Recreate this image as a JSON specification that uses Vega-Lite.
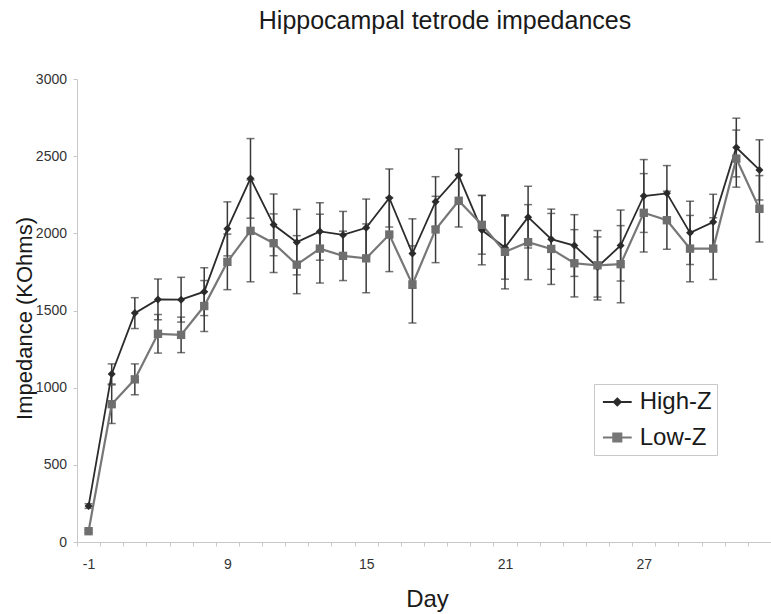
{
  "$schema": "https://vega.github.io/schema/vega-lite/v6.json",
  "autosize": {"type": "none"},
  "padding": {"left": 77, "top": 79, "right": 0, "bottom": 72},
  "width": 694,
  "height": 463,
  "background": "white",
  "config": {"view": {"stroke": null}, "font": "Liberation Sans"},
  "title": {"text": "Hippocampal tetrode impedances", "fontSize": 25, "font": "Liberation Sans", "fontWeight": "normal", "color": "#1a1a1a", "anchor": "middle", "frame": "group", "dx": 21, "offset": 18, "baseline": "alphabetic"},
  "data": {"values": [
    {"day": -1, "group": "High-Z", "mean": 233, "err": 15},
    {"day": 4, "group": "High-Z", "mean": 1089, "err": 65},
    {"day": 5, "group": "High-Z", "mean": 1483, "err": 100},
    {"day": 6, "group": "High-Z", "mean": 1572, "err": 132},
    {"day": 7, "group": "High-Z", "mean": 1570, "err": 145},
    {"day": 8, "group": "High-Z", "mean": 1622, "err": 155},
    {"day": 9, "group": "High-Z", "mean": 2029, "err": 175},
    {"day": 10, "group": "High-Z", "mean": 2356, "err": 258},
    {"day": 11, "group": "High-Z", "mean": 2055, "err": 200},
    {"day": 12, "group": "High-Z", "mean": 1943, "err": 212},
    {"day": 13, "group": "High-Z", "mean": 2012, "err": 186},
    {"day": 14, "group": "High-Z", "mean": 1990, "err": 152},
    {"day": 15, "group": "High-Z", "mean": 2036, "err": 186},
    {"day": 16, "group": "High-Z", "mean": 2229, "err": 188},
    {"day": 17, "group": "High-Z", "mean": 1869, "err": 225},
    {"day": 18, "group": "High-Z", "mean": 2205, "err": 162},
    {"day": 19, "group": "High-Z", "mean": 2374, "err": 173},
    {"day": 20, "group": "High-Z", "mean": 2021, "err": 225},
    {"day": 21, "group": "High-Z", "mean": 1908, "err": 205},
    {"day": 22, "group": "High-Z", "mean": 2105, "err": 200},
    {"day": 23, "group": "High-Z", "mean": 1962, "err": 195},
    {"day": 24, "group": "High-Z", "mean": 1921, "err": 200},
    {"day": 25, "group": "High-Z", "mean": 1782, "err": 195},
    {"day": 26, "group": "High-Z", "mean": 1921, "err": 230},
    {"day": 27, "group": "High-Z", "mean": 2242, "err": 236},
    {"day": 28, "group": "High-Z", "mean": 2259, "err": 180},
    {"day": 29, "group": "High-Z", "mean": 2003, "err": 205},
    {"day": 30, "group": "High-Z", "mean": 2073, "err": 180},
    {"day": 31, "group": "High-Z", "mean": 2556, "err": 190},
    {"day": 32, "group": "High-Z", "mean": 2411, "err": 195},
    {"day": -1, "group": "Low-Z", "mean": 70, "err": 10},
    {"day": 4, "group": "Low-Z", "mean": 893, "err": 125},
    {"day": 5, "group": "Low-Z", "mean": 1054, "err": 100},
    {"day": 6, "group": "Low-Z", "mean": 1349, "err": 125},
    {"day": 7, "group": "Low-Z", "mean": 1342, "err": 115},
    {"day": 8, "group": "Low-Z", "mean": 1529, "err": 165},
    {"day": 9, "group": "Low-Z", "mean": 1815, "err": 180},
    {"day": 10, "group": "Low-Z", "mean": 2016, "err": 330},
    {"day": 11, "group": "Low-Z", "mean": 1936, "err": 190},
    {"day": 12, "group": "Low-Z", "mean": 1797, "err": 188},
    {"day": 13, "group": "Low-Z", "mean": 1901, "err": 223},
    {"day": 14, "group": "Low-Z", "mean": 1854, "err": 160},
    {"day": 15, "group": "Low-Z", "mean": 1838, "err": 223},
    {"day": 16, "group": "Low-Z", "mean": 1992, "err": 240},
    {"day": 17, "group": "Low-Z", "mean": 1669, "err": 250},
    {"day": 18, "group": "Low-Z", "mean": 2025, "err": 215},
    {"day": 19, "group": "Low-Z", "mean": 2211, "err": 170},
    {"day": 20, "group": "Low-Z", "mean": 2055, "err": 190},
    {"day": 21, "group": "Low-Z", "mean": 1880, "err": 240},
    {"day": 22, "group": "Low-Z", "mean": 1943, "err": 243},
    {"day": 23, "group": "Low-Z", "mean": 1899, "err": 230},
    {"day": 24, "group": "Low-Z", "mean": 1806, "err": 218},
    {"day": 25, "group": "Low-Z", "mean": 1793, "err": 225},
    {"day": 26, "group": "Low-Z", "mean": 1800, "err": 250},
    {"day": 27, "group": "Low-Z", "mean": 2133, "err": 254},
    {"day": 28, "group": "Low-Z", "mean": 2085, "err": 188},
    {"day": 29, "group": "Low-Z", "mean": 1901, "err": 215},
    {"day": 30, "group": "Low-Z", "mean": 1901, "err": 200},
    {"day": 31, "group": "Low-Z", "mean": 2484, "err": 185},
    {"day": 32, "group": "Low-Z", "mean": 2159, "err": 215}
  ]},
  "encoding": {
    "x": {
      "field": "day", "type": "ordinal", "sort": "ascending",
      "scale": {"type": "point", "padding": 0.5},
      "axis": {
        "title": "Day", "titleFontSize": 24, "titleFont": "Liberation Sans", "titleFontWeight": "normal", "titleColor": "#1a1a1a",
        "titleX": 350, "titleY": 64, "titleBaseline": "alphabetic", "titleAlign": "center", "titleAngle": 0,
        "labelAngle": 0, "labelExpr": "indexof([-1, 9, 15, 21, 27], datum.value) >= 0 ? datum.label : ''",
        "labelFontSize": 14, "labelColor": "#333333", "labelPadding": 11, "labelOverlap": false,
        "tickSize": 4, "tickColor": "#c8c8c8", "domainColor": "#c8c8c8",
        "tickOffset": -11.57, "labelOffset": 11.57, "grid": false
      }
    },
    "y": {
      "field": "mean", "type": "quantitative",
      "scale": {"domain": [0, 3000], "nice": false},
      "axis": {
        "title": "Impedance (KOhms)", "titleFontSize": 22, "titleFont": "Liberation Sans", "titleFontWeight": "normal", "titleColor": "#1a1a1a",
        "titleX": -46, "titleY": 239, "titleAngle": 270, "titleBaseline": "alphabetic", "titleAlign": "center",
        "values": [0, 500, 1000, 1500, 2000, 2500, 3000], "format": "d",
        "labelFontSize": 14, "labelColor": "#333333", "labelPadding": 6.5,
        "tickSize": 4, "tickColor": "#c8c8c8", "domainColor": "#c8c8c8", "grid": false
      }
    }
  },
  "layer": [
    {
      "mark": {"type": "errorbar", "ticks": {"size": 8}, "thickness": 1.5, "color": "#3a3a3a"},
      "encoding": {
        "y": {"field": "mean", "type": "quantitative"},
        "yError": {"field": "err"},
        "detail": {"field": "group"}
      }
    },
    {
      "mark": {"type": "line"},
      "encoding": {
        "color": {
          "field": "group", "type": "nominal",
          "scale": {"domain": ["High-Z", "Low-Z"], "range": ["#2b2b2b", "#777777"]},
          "legend": {
            "orient": "none", "legendX": 517, "legendY": 305, "title": null,
            "strokeColor": "#c8c8c8", "fillColor": "white", "padding": 5,
            "labelFontSize": 24, "labelFont": "Liberation Sans", "labelColor": "#1a1a1a",
            "symbolSize": 576, "symbolStrokeWidth": 1.6, "labelOffset": 13.7, "rowPadding": 10,
            "symbolType": "stroke",
            "encode": {"symbols": {"update": {
              "shape": {"signal": "datum.value === 'High-Z' ? 'M-0.8,0L1.6,0M0.4,-0.3L0.7,0L0.4,0.3L0.1,0Z' : 'M-0.8,0L1.6,0M0.07,-0.33L0.73,-0.33L0.73,0.33L0.07,0.33Z'"},
              "fill": {"signal": "scale('color', datum.value)"},
              "stroke": {"signal": "scale('color', datum.value)"}
            }}}
          }
        },
        "strokeWidth": {"field": "group", "type": "nominal", "scale": {"domain": ["High-Z", "Low-Z"], "range": [1.8, 2.2]}, "legend": null}
      }
    },
    {
      "transform": [{"filter": "datum.group === 'High-Z'"}],
      "mark": {"type": "point", "filled": true, "opacity": 1, "size": 64, "shape": "diamond", "color": "#2b2b2b"},
      "encoding": {}
    },
    {
      "transform": [{"filter": "datum.group === 'Low-Z'"}],
      "mark": {"type": "point", "filled": true, "opacity": 1, "size": 70, "shape": "square", "color": "#6e6e6e"},
      "encoding": {}
    }
  ]
}
